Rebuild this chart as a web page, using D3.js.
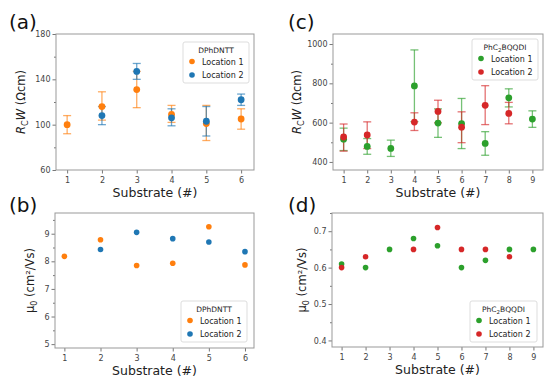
<!DOCTYPE html>
<html>
<head>
<meta charset="utf-8">
<script src="https://cdn.jsdelivr.net/npm/d3@7"></script>
<style>
  body { margin: 0; background: #fff; }
  text { font-family: "DejaVu Sans", sans-serif; }
  .tick text { fill: #444; font-size: 8px; }
  .tick line { stroke: #777; }
  .domain { display: none; }
</style>
</head>
<body>
<svg id="fig" width="554" height="386"></svg>
<script>
// Panel (a): DPhDNTT contact resistance
const subsA = [1, 2, 3, 4, 5, 6];
const rcA1 = [100, 116, 131, 109, 101, 105];
const rcA1Lo = [92, 104, 115, 102, 86, 96];
const rcA1Hi = [108, 129, 147, 117, 117, 114];
const subsA2 = [2, 3, 4, 5, 6];
const rcA2 = [108, 147, 106, 103, 122];
const rcA2Lo = [100, 140, 99, 90, 117];
const rcA2Hi = [116, 154, 114, 116, 127];

// Panel (b): DPhDNTT mobility
const muB1 = [8.18, 8.78, 7.85, 7.93, 9.25, 7.87];
const muB2 = [8.43, 9.05, 8.82, 8.70, 8.35];

// Panel (c): PhC2BQQDI contact resistance
const subsC = [1, 2, 3, 4, 5, 6, 7, 8, 9];
const rcC1 = [516, 479, 469, 787, 598, 595, 494, 726, 618];
const rcC1Lo = [458, 439, 428, 605, 525, 468, 434, 680, 576];
const rcC1Hi = [572, 519, 511, 970, 670, 723, 554, 772, 660];
const subsC2 = [1, 2, 4, 5, 6, 7, 8];
const rcC2 = [527, 537, 603, 657, 577, 688, 647];
const rcC2Lo = [455, 468, 560, 599, 498, 590, 594];
const rcC2Hi = [593, 604, 650, 714, 655, 788, 703];

// Panel (d): PhC2BQQDI mobility
const muD1 = [0.61, 0.60, 0.65, 0.68, 0.66, 0.60, 0.62, 0.65, 0.65];
const muD2 = [0.60, 0.63, 0.65, 0.71, 0.65, 0.65, 0.63];

const orange = "#ff7f0e", blue = "#1f77b4", green = "#2ca02c", red = "#d62728";

const svg = d3.select("#fig");

function zip(xs, ys, lo, hi) {
  return xs.map((x, i) => ({ x: x, y: ys[i], lo: lo ? lo[i] : null, hi: hi ? hi[i] : null }));
}

function panel(opt) {
  const g = svg.append("g");
  const x = d3.scaleLinear().domain(opt.xDomain).range([opt.left, opt.right]);
  const y = d3.scaleLinear().domain(opt.yDomain).range([opt.bottom, opt.top]);

  // minor ticks
  g.append("g")
    .attr("transform", `translate(${opt.left},0)`)
    .call(d3.axisLeft(y).tickValues(opt.minor).tickSize(2).tickFormat(""));
  // major ticks
  g.append("g")
    .attr("transform", `translate(${opt.left},0)`)
    .call(d3.axisLeft(y).tickValues(opt.major).tickSize(3.5).tickPadding(2)
      .tickFormat(opt.fmt || (d => d)));
  g.append("g")
    .attr("transform", `translate(0,${opt.bottom})`)
    .call(d3.axisBottom(x).tickValues(opt.xTicks).tickSize(3.5).tickPadding(4)
      .tickFormat(d3.format("d")));

  // frame
  g.append("rect")
    .attr("x", opt.left).attr("y", opt.top)
    .attr("width", opt.right - opt.left).attr("height", opt.bottom - opt.top)
    .attr("fill", "none").attr("stroke", "#999").attr("stroke-width", 1);

  // error bars
  opt.series.forEach(s => {
    const sg = g.append("g");
    if (s.data[0].lo !== null) {
      const eb = sg.selectAll(".eb").data(s.data).enter().append("g")
        .attr("stroke", s.color).attr("stroke-opacity", 0.65).attr("stroke-width", 1.3);
      eb.append("line")
        .attr("x1", d => x(d.x)).attr("x2", d => x(d.x))
        .attr("y1", d => y(d.lo)).attr("y2", d => y(d.hi));
      eb.append("line")
        .attr("x1", d => x(d.x) - 4).attr("x2", d => x(d.x) + 4)
        .attr("y1", d => y(d.lo)).attr("y2", d => y(d.lo));
      eb.append("line")
        .attr("x1", d => x(d.x) - 4).attr("x2", d => x(d.x) + 4)
        .attr("y1", d => y(d.hi)).attr("y2", d => y(d.hi));
    }
  });
  // markers
  opt.series.forEach(s => {
    g.append("g").selectAll("circle").data(s.data).enter().append("circle")
      .attr("cx", d => x(d.x)).attr("cy", d => y(d.y))
      .attr("r", s.r).attr("fill", s.color);
  });

  // axis titles
  const cx = (opt.left + opt.right) / 2;
  g.append("text").attr("x", cx).attr("y", opt.bottom + 27)
    .attr("text-anchor", "middle").attr("font-size", 12.5).attr("fill", "#222")
    .text("Substrate (#)");
  const yl = g.append("text")
    .attr("transform", `translate(${opt.yLabelX},${(opt.top + opt.bottom) / 2}) rotate(-90)`)
    .attr("text-anchor", "middle").attr("font-size", 11.5).attr("fill", "#222");
  opt.yLabel(yl);

  // panel letter
  g.append("text").attr("x", opt.letterX).attr("y", opt.letterY)
    .attr("font-size", 20).attr("fill", "#111").text(opt.letter);

  // legend
  const L = opt.legend;
  const lg = g.append("g").attr("transform", `translate(${L.x},${L.y})`);
  lg.append("rect").attr("width", L.w).attr("height", 41).attr("rx", 2)
    .attr("fill", "#fff").attr("fill-opacity", 0.85).attr("stroke", "#ddd");
  const lt = lg.append("text").attr("x", L.w / 2).attr("y", 10.5)
    .attr("text-anchor", "middle").attr("font-size", 7.5).attr("fill", "#222");
  L.title(lt);
  opt.series.forEach((s, i) => {
    lg.append("circle").attr("cx", 9).attr("cy", 19.5 + i * 13.5).attr("r", 2.8).attr("fill", s.color);
    lg.append("text").attr("x", 19).attr("y", 22.5 + i * 13.5)
      .attr("font-size", 8).attr("fill", "#222").text(s.name);
  });
}

function rcLabel(t) {
  t.append("tspan").attr("font-style", "italic").text("R");
  t.append("tspan").attr("font-size", 8).attr("dy", 3).text("C");
  t.append("tspan").attr("font-style", "italic").attr("dy", -3).text("W");
  t.append("tspan").text(" (Ωcm)");
}
function muLabel(t) {
  t.append("tspan").text("μ");
  t.append("tspan").attr("font-size", 8).attr("dy", 3).text("0");
  t.append("tspan").attr("dy", -3).text(" (cm²/Vs)");
}
function titleDPh(t) { t.text("DPhDNTT"); }
function titlePhC(t) {
  t.append("tspan").text("PhC");
  t.append("tspan").attr("font-size", 5.5).attr("dy", 2).text("2");
  t.append("tspan").attr("dy", -2).text("BQQDI");
}

panel({
  left: 56, right: 254, top: 34, bottom: 170,
  xDomain: [0.68, 6.37], yDomain: [60, 180],
  xTicks: subsA, major: [60, 100, 140, 180], minor: [80, 120, 160],
  series: [
    { name: "Location 1", color: orange, r: 3.4, data: zip(subsA, rcA1, rcA1Lo, rcA1Hi) },
    { name: "Location 2", color: blue, r: 3.4, data: zip(subsA2, rcA2, rcA2Lo, rcA2Hi) }
  ],
  yLabel: rcLabel, yLabelX: 25,
  letter: "(a)", letterX: 9, letterY: 29,
  legend: { x: 183, y: 42, w: 66, title: titleDPh }
});

panel({
  left: 55, right: 254, top: 213, bottom: 348,
  xDomain: [0.74, 6.25], yDomain: [4.86, 9.75],
  xTicks: subsA, major: [5, 6, 7, 8, 9], minor: [5.5, 6.5, 7.5, 8.5, 9.5],
  series: [
    { name: "Location 1", color: orange, r: 2.8, data: zip(subsA, muB1) },
    { name: "Location 2", color: blue, r: 2.8, data: zip(subsA2, muB2) }
  ],
  yLabel: muLabel, yLabelX: 34,
  letter: "(b)", letterX: 9, letterY: 212,
  legend: { x: 181, y: 301, w: 66, title: titleDPh }
});

panel({
  left: 333, right: 543, top: 34, bottom: 170,
  xDomain: [0.55, 9.45], yDomain: [359, 1051],
  xTicks: subsC, major: [400, 600, 800, 1000], minor: [500, 700, 900],
  series: [
    { name: "Location 1", color: green, r: 3.4, data: zip(subsC, rcC1, rcC1Lo, rcC1Hi) },
    { name: "Location 2", color: red, r: 3.4, data: zip(subsC2, rcC2, rcC2Lo, rcC2Hi) }
  ],
  yLabel: rcLabel, yLabelX: 301,
  letter: "(c)", letterX: 288, letterY: 29,
  legend: { x: 472, y: 39, w: 66, title: titlePhC }
});

panel({
  left: 332, right: 543, top: 213, bottom: 347,
  xDomain: [0.6, 9.4], yDomain: [0.382, 0.75],
  xTicks: subsC, major: [0.4, 0.5, 0.6, 0.7], minor: [0.45, 0.55, 0.65, 0.75],
  fmt: d3.format(".1f"),
  series: [
    { name: "Location 1", color: green, r: 2.8, data: zip(subsC, muD1) },
    { name: "Location 2", color: red, r: 2.8, data: zip(subsC2, muD2) }
  ],
  yLabel: muLabel, yLabelX: 306,
  letter: "(d)", letterX: 288, letterY: 212,
  legend: { x: 470, y: 301, w: 67, title: titlePhC }
});
</script>
</body>
</html>
